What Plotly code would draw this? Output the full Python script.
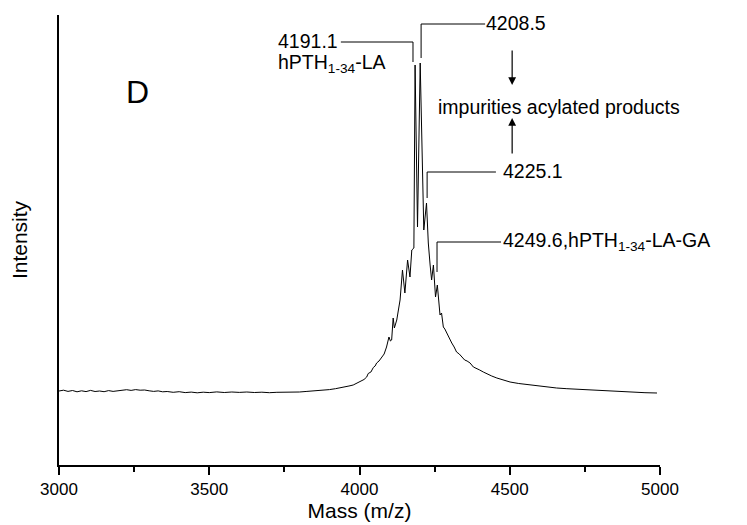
import plotly.graph_objects as go

# ---- spectrum (mass m/z, intensity a.u.) ----
mass = [3000, 3015, 3030, 3045, 3060, 3075, 3090, 3105, 3120, 3135, 3150, 3165, 3180,
        3195, 3210, 3225, 3240, 3255, 3270, 3285, 3300, 3315, 3330, 3345, 3360, 3380,
        3400, 3420, 3440, 3460, 3480, 3500, 3525, 3550, 3575, 3600, 3625, 3650, 3675,
        3700, 3725, 3750, 3775, 3800, 3825, 3850, 3875, 3900, 3920, 3935, 3950, 3965,
        3979, 3990, 4002, 4015, 4024, 4029, 4038, 4046, 4052, 4057, 4065, 4074, 4082,
        4090, 4098, 4103, 4107, 4112, 4116, 4120, 4124, 4130, 4135, 4143, 4151, 4160,
        4168, 4174, 4181, 4185, 4193, 4202, 4214, 4223, 4229, 4235, 4240, 4246, 4253,
        4259, 4264, 4268, 4273, 4279, 4284, 4290, 4298, 4307, 4315, 4323, 4332, 4340,
        4350, 4358, 4368, 4379, 4390, 4400, 4412, 4425, 4440, 4457, 4475, 4501, 4530,
        4567, 4600, 4630, 4656, 4690, 4720, 4767, 4800, 4840, 4878, 4920, 4950, 4990]
intensity = [74, 74.8, 73.6, 74.5, 73.2, 74.2, 73.4, 74.6, 73.5, 74.0, 73.3, 74.4, 73.6,
             74.3, 74.9, 75.3, 74.6, 75.4, 74.8, 75.0, 74.2, 73.6, 74.1, 73.2, 73.5, 72.7,
             73.3, 72.4, 72.9, 72.2, 72.8, 72.4, 73.1, 72.5, 73.0, 72.6, 73.0, 72.5, 72.8,
             72.3, 72.7, 72.6, 73.2, 73.0, 73.6, 74.0, 74.8, 75.4, 76.3, 77.0, 78.0, 79.0,
             80.0, 81.5, 83.0, 85.5, 88.0, 91.5, 93.0, 97.5, 99.0, 102, 104, 108, 111,
             118, 128, 124, 125, 147, 137, 141, 145, 156, 165, 195, 172, 205,
             188, 215, 217, 400, 238, 402, 235, 262, 222, 200, 185, 200, 168,
             180, 160, 150, 152, 138, 136, 132, 127, 122, 118, 113, 111, 108,
             105, 104, 102, 98, 96, 95, 93, 91, 89, 87, 85.5, 83, 81.5,
             80, 78.8, 78, 77, 76.3, 75.8, 75, 74.3, 73.6, 73, 72.6, 72.3, 72]

# ---- axis ----
x_ticks = [3000, 3500, 4000, 4500, 5000]
x_tick_labels = ["3000", "3500", "4000", "4500", "5000"]
x_minor_ticks = [3250, 3750, 4250, 4750]

# ---- peak labels with leader lines ----
label_texts = ["4191.1", "4208.5", "4225.1", "4249.6,hPTH<sub>1-34</sub>-LA-GA"]
leader_peak_x = [4178, 4205, 4225, 4258]
leader_peak_y = [403, 407, 267, 193]
leader_corner_y = [423, 441, 293, 223]
leader_end_x = [3938, 4418, 4454, 4471]
label_x = [3935, 4414, 4471, 4471]
label_anchor = ["right", "left", "left", "left"]

FONT = "Liberation Sans, Arial, sans-serif"
ANN = 19.5

fig = go.Figure()
fig.add_trace(go.Scatter(x=mass, y=intensity, mode="lines",
                         line=dict(color="black", width=1), hoverinfo="skip",
                         showlegend=False))

for px, py, cy, ex in zip(leader_peak_x, leader_peak_y, leader_corner_y, leader_end_x):
    fig.add_shape(type="line", xref="x", yref="y", x0=px, y0=py, x1=px, y1=cy,
                  line=dict(color="black", width=1))
    fig.add_shape(type="line", xref="x", yref="y", x0=px, y0=cy, x1=ex, y1=cy,
                  line=dict(color="black", width=1))

for t, lx, cy, anc in zip(label_texts, label_x, leader_corner_y, label_anchor):
    fig.add_annotation(x=lx, y=cy + 1, xref="x", yref="y", text=t, showarrow=False,
                       xanchor=anc, yanchor="middle",
                       font=dict(family=FONT, size=ANN, color="black"))

fig.add_annotation(x=3722, y=402, xref="x", yref="y", text="hPTH<sub>1-34</sub>-LA",
                   showarrow=False, xanchor="left", yanchor="middle",
                   font=dict(family=FONT, size=ANN, color="black"))
fig.add_annotation(x=4256, y=358, xref="x", yref="y", text="impurities acylated products",
                   showarrow=False, xanchor="left", yanchor="middle",
                   font=dict(family=FONT, size=ANN, color="black"))
# arrows
fig.add_annotation(x=4508, y=380, xref="x", yref="y", ax=4508, ay=416, axref="x", ayref="y",
                   text="", showarrow=True, arrowhead=2, arrowsize=1.3, arrowwidth=1.2,
                   arrowcolor="black")
fig.add_annotation(x=4508, y=347, xref="x", yref="y", ax=4508, ay=310, axref="x", ayref="y",
                   text="", showarrow=True, arrowhead=2, arrowsize=1.3, arrowwidth=1.2,
                   arrowcolor="black")

fig.add_annotation(x=5038, y=440, xref="x", yref="y", text="Day 21", showarrow=False,
                   xanchor="left", yanchor="middle",
                   font=dict(family=FONT, size=ANN, color="black"))
fig.add_annotation(x=5038, y=393, xref="x", yref="y", text="Peak C", showarrow=False,
                   xanchor="left", yanchor="middle",
                   font=dict(family=FONT, size=ANN, color="black"))
fig.add_annotation(x=3262, y=373, xref="x", yref="y", text="D", showarrow=False,
                   xanchor="center", yanchor="middle",
                   font=dict(family=FONT, size=32, color="black"))

# the page body adds an 8 px offset, so margins are trimmed accordingly
fig.update_layout(
    width=747, height=525,
    margin=dict(l=51, r=95, t=7, b=68),
    paper_bgcolor="white", plot_bgcolor="white",
    font=dict(family=FONT, size=17, color="black"),
    xaxis=dict(range=[3000, 5000], tickvals=x_ticks, ticktext=x_tick_labels,
               ticks="outside", ticklen=8, tickwidth=1.5, tickcolor="black",
               showline=True, linecolor="black", linewidth=2, showgrid=False,
               zeroline=False, tickfont=dict(size=17), automargin=False,
               minor=dict(tickvals=x_minor_ticks, ticks="outside",
                          ticklen=5, tickwidth=1.5, tickcolor="black"),
               title=dict(text="Mass (m/z)", font=dict(size=21), standoff=4)),
    yaxis=dict(range=[0, 450], showticklabels=False, ticks="", showline=True,
               linecolor="black", linewidth=2, showgrid=False, zeroline=False,
               automargin=False,
               title=dict(text="Intensity", font=dict(size=21), standoff=24)),
)

fig.write_html("out.html")
